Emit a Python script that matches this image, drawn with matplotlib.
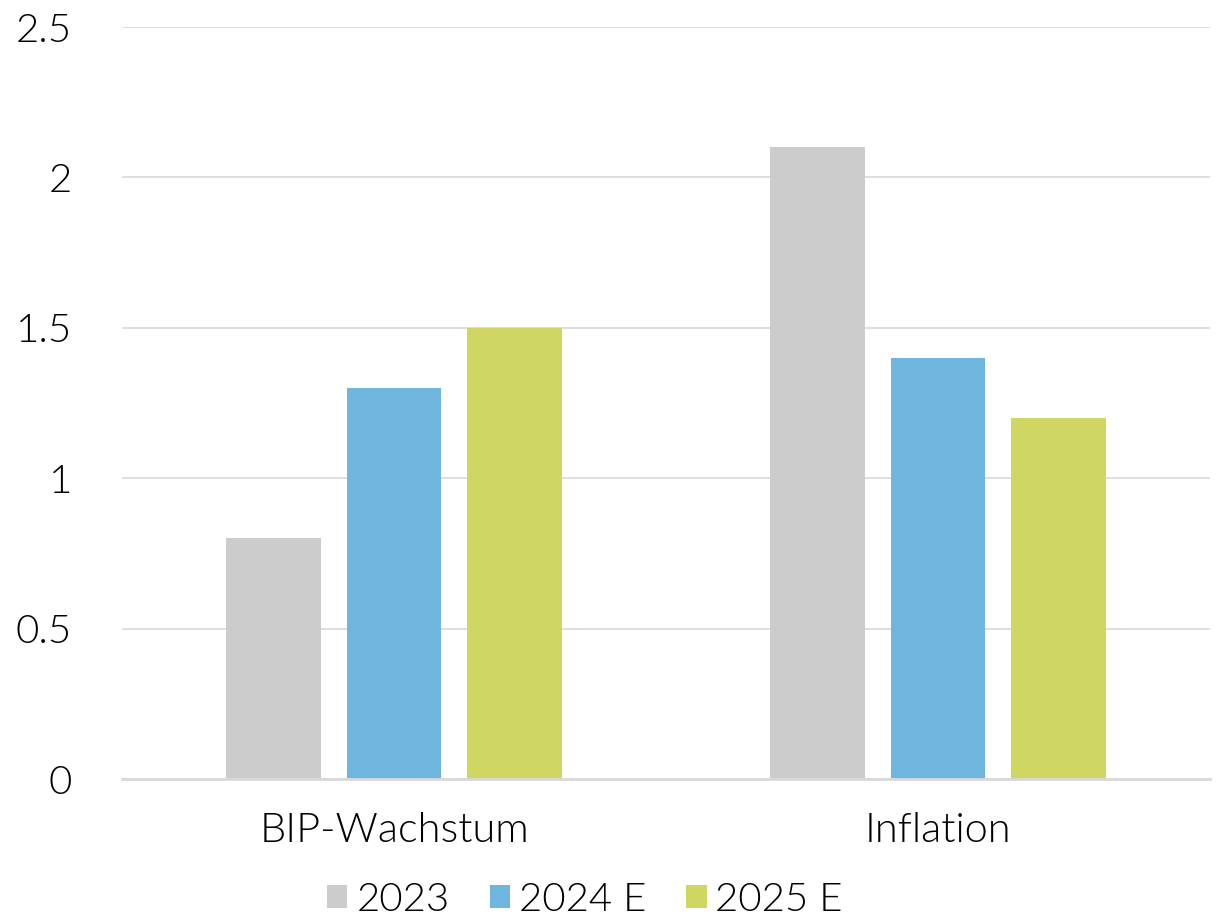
import matplotlib
matplotlib.use("Agg")
import matplotlib.pyplot as plt
import numpy as np

categories = ["BIP-Wachstum", "Inflation"]
series_names = ["2023", "2024 E", "2025 E"]
values_2023 = [0.8, 2.1]
values_2024 = [1.3, 1.4]
values_2025 = [1.5, 1.2]
colors = ["#CCCCCC", "#6FB6DE", "#CFD762"]
yticks = [0, 0.5, 1, 1.5, 2, 2.5]
ytick_labels = ["0", "0.5", "1", "1.5", "2", "2.5"]

plt.rcParams['font.family'] = ['Lato', 'DejaVu Sans']
plt.rcParams['font.weight'] = 300

fig = plt.figure(figsize=(12.19, 9.19), dpi=100)
ax = fig.add_axes([122/1219, 140/919, 1088/1219, 752/919])

x = np.arange(len(categories))
width = 0.174
offset = 0.222
all_vals = [values_2023, values_2024, values_2025]
for i, (vals, name, c) in enumerate(zip(all_vals, series_names, colors)):
    ax.bar(x + (i - 1) * offset, vals, width, color=c, label=name, zorder=3)

ax.set_xlim(-0.5, 1.5)
ax.set_ylim(0, 2.5)
ax.set_yticks(yticks)
ax.set_yticklabels(ytick_labels)
ax.set_xticks(x)
ax.set_xticklabels(categories)
ax.grid(axis='y', color='#D9D9D9', linewidth=1.2, zorder=0)
for s in ['top', 'right', 'left']:
    ax.spines[s].set_visible(False)
ax.spines['bottom'].set_color('#D9D9D9')
ax.spines['bottom'].set_linewidth(2)
ax.spines['bottom'].set_zorder(4)
ax.tick_params(axis='both', length=0, labelsize=29, labelcolor='#000000')
ax.tick_params(axis='x', labelsize=30)
ax.tick_params(axis='y', pad=36)
ax.tick_params(axis='x', pad=24)

fig.legend(loc='lower center', bbox_to_anchor=(0.48, -0.038), ncol=3, frameon=False,
           fontsize=29, handlelength=0.5, handleheight=0.5, handletextpad=0.22,
           columnspacing=1.0, labelcolor='#000000')

fig.savefig("out.png", dpi=100)
